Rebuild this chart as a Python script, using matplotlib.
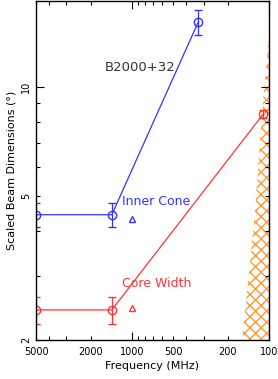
import numpy as np
import matplotlib
matplotlib.use('Agg')
import matplotlib.pyplot as plt
from matplotlib.ticker import FixedLocator, NullFormatter, LogLocator

plt.rcParams['font.family'] = ['DejaVu Sans']
plt.rcParams['hatch.linewidth'] = 1.0

# inner cone (blue)
cone_freq = [5000, 1400, 327]
cone_size = [4.43, 4.43, 15.1]
cone_err = [0.33, 0.33, 1.2]

# core width (red)
core_freq = [5000, 1400, 110]
core_size = [2.42, 2.42, 8.4]
core_err = [0.2, 0.2, 0.2]

# triangle markers near 1 GHz
tri_freq = [1000, 1000]
tri_size = [4.3, 2.45]

# hatched region boundary (low frequency)
hatch_freq = [101, 112, 128, 157]
hatch_size = [13.3, 8.55, 4.27, 2.0]

fig = plt.figure(figsize=(2.78, 3.79), dpi=100)
ax = fig.add_axes([0.1295, 0.103, 0.838, 0.894])
ax.set_xscale('log')
ax.set_yscale('log')

ax.errorbar(cone_freq, cone_size, yerr=cone_err, color='#3333ff', lw=0.9,
            marker='o', ms=6, mfc='none', mec='#3333ff', capsize=3, elinewidth=0.9)
ax.errorbar(core_freq, core_size, yerr=core_err, color='#ff3333', lw=0.9,
            marker='o', ms=6, mfc='none', mec='#ff3333', capsize=3, elinewidth=0.9)
ax.plot(tri_freq[0], tri_size[0], marker='^', ms=4.5, mfc='none', mec='#3333ff', ls='none')
ax.plot(tri_freq[1], tri_size[1], marker='^', ms=4.5, mfc='none', mec='#ff3333', ls='none')

hx = [100] + hatch_freq + [100]
hy = [hatch_size[0]] + hatch_size + [2.0]
ax.fill(hx, hy, facecolor='none', edgecolor='#ff9933', hatch='xxx', lw=0)

ax.text(871, 11.3, 'B2000+32', fontsize=9.5, color='#333333', ha='center', va='center')
ax.text(1178, 4.82, 'Inner Cone', fontsize=9, color='#3333ff', ha='left', va='center')
ax.text(1178, 2.87, 'Core Width', fontsize=9, color='#ff3333', ha='left', va='center')

ax.set_xlim(5000, 100)
ax.set_ylim(2, 17.2)

ax.xaxis.set_major_locator(FixedLocator([1000, 100]))
ax.xaxis.set_minor_locator(LogLocator(base=10, subs=np.arange(2, 10)))
ax.xaxis.set_major_formatter(NullFormatter())
ax.xaxis.set_minor_formatter(NullFormatter())
for f in [5000, 2000, 1000, 500, 200, 100]:
    ax.text(f, -0.022, str(f), transform=ax.get_xaxis_transform(), ha='center', va='top', fontsize=7)

ax.yaxis.set_major_locator(FixedLocator([10]))
ax.yaxis.set_minor_locator(LogLocator(base=10, subs=np.arange(2, 10)))
ax.yaxis.set_major_formatter(NullFormatter())
ax.yaxis.set_minor_formatter(NullFormatter())
for v in [2, 5, 10]:
    ax.text(-0.022, v, str(v), transform=ax.get_yaxis_transform(), ha='right', va='center',
            fontsize=7, rotation=90)

ax.tick_params(which='both', direction='in', top=True, right=True, width=0.8)
ax.tick_params(which='major', length=6)
ax.tick_params(which='minor', length=3)
for s in ax.spines.values():
    s.set_linewidth(1.0)

fig.text(0.548, 0.034, 'Frequency (MHz)', ha='center', va='center', fontsize=8)
fig.text(0.04, 0.55, 'Scaled Beam Dimensions (°)', ha='center', va='center', fontsize=8, rotation=90)

fig.savefig('out.png', dpi=100)
